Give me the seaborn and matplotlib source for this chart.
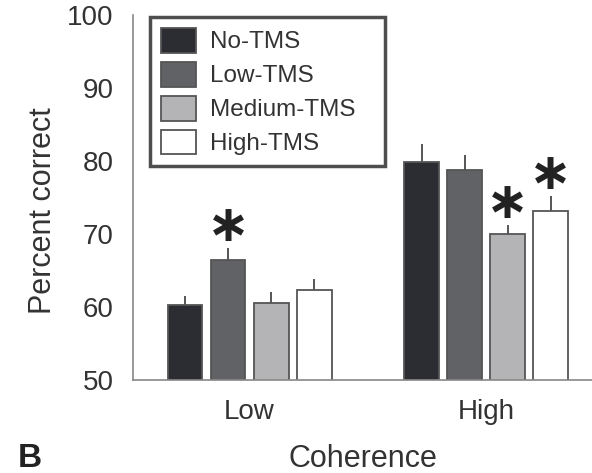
import matplotlib
matplotlib.use("Agg")
import matplotlib.pyplot as plt
import seaborn as sns
import pandas as pd

# ---- data ----
coherence = ["Low", "High"]
tms_levels = ["No-TMS", "Low-TMS", "Medium-TMS", "High-TMS"]
pct_low = [60.3, 66.4, 60.6, 62.3]
pct_high = [79.9, 78.7, 70.0, 73.2]
err_low = [1.2, 1.7, 1.5, 1.6]
err_high = [2.4, 2.1, 1.2, 2.0]
sig_low = [False, True, False, False]
sig_high = [False, False, True, True]
yticks = [50, 60, 70, 80, 90, 100]

colors = ["#2b2c34", "#606166", "#b4b4b6", "#ffffff"]

rows = []
for c, vals in zip(coherence, [pct_low, pct_high]):
    for t, v in zip(tms_levels, vals):
        rows.append({"Coherence": c, "TMS": t, "Percent": v})
df = pd.DataFrame(rows)
errs = {"Low": err_low, "High": err_high}
sigs = {"Low": sig_low, "High": sig_high}

sns.set_style("white")
plt.rcParams["font.family"] = ["Liberation Sans", "DejaVu Sans"]
txt = "#333333"

fig = plt.figure(figsize=(5.92, 4.73), dpi=100)
ax = fig.add_axes([133/592, 93/473, 459/592, 365/473])

sns.barplot(data=df, x="Coherence", y="Percent", hue="TMS", order=coherence,
            hue_order=tms_levels, palette=dict(zip(tms_levels, colors)),
            width=0.728, gap=0.19, edgecolor="#555555", linewidth=1.3,
            errorbar=None, ax=ax)

bar_containers = list(ax.containers)
# error bars and significance stars positioned from the drawn bars
for hi, cont in enumerate(bar_containers):
    for ci, bar in enumerate(cont.patches):
        cat = coherence[ci]
        xc = bar.get_x() + bar.get_width() / 2
        h = bar.get_height()
        e = errs[cat][hi]
        ax.errorbar([xc], [h], yerr=[[0], [e]], fmt="none",
                    ecolor="#555555", elinewidth=1.4, capsize=0, zorder=1)
        if sigs[cat][hi]:
            ax.text(xc, h + e + 2.9, "\u2217", ha="center", va="center",
                    fontsize=37, color="#222222", fontweight="bold",
                    family=["DejaVu Sans"])

ax.set_ylim(50, 100)
ax.set_xlim(-0.493, 1.448)
ax.set_yticks(yticks)
ax.set_yticklabels([str(v) for v in yticks])
ax.tick_params(axis="y", direction="in", length=4, width=1, color="#888888",
               labelsize=20, labelcolor=txt, pad=14)
ax.tick_params(axis="x", length=0, labelsize=20, labelcolor=txt, pad=14)

for s in ["top", "right"]:
    ax.spines[s].set_visible(False)
for s in ["left", "bottom"]:
    ax.spines[s].set_color("#888888")
    ax.spines[s].set_linewidth(1.2)

ax.set_ylabel("Percent correct", fontsize=22, color=txt)
ax.yaxis.set_label_coords(-0.163, 0.463)
ax.set_xlabel("Coherence", fontsize=22, color=txt, labelpad=13)

handles, labels = ax.get_legend_handles_labels()
leg = ax.legend(handles, labels, loc="upper left",
                bbox_to_anchor=(0.037, 0.6, 0.512, 0.395), mode="expand",
                borderaxespad=0, fontsize=17.5, frameon=True, fancybox=False,
                handlelength=1.45, handleheight=1.2, labelspacing=0.34,
                handletextpad=0.55, borderpad=0.45)
leg.get_frame().set_edgecolor("#222222")
leg.get_frame().set_linewidth(2.5)
for t in leg.get_texts():
    t.set_color(txt)

fig.text(18/592, 1 - 467/473, "B", fontsize=24, fontweight="bold", color="#222222",
         ha="left", va="baseline")

fig.savefig("out.png", dpi=100)
